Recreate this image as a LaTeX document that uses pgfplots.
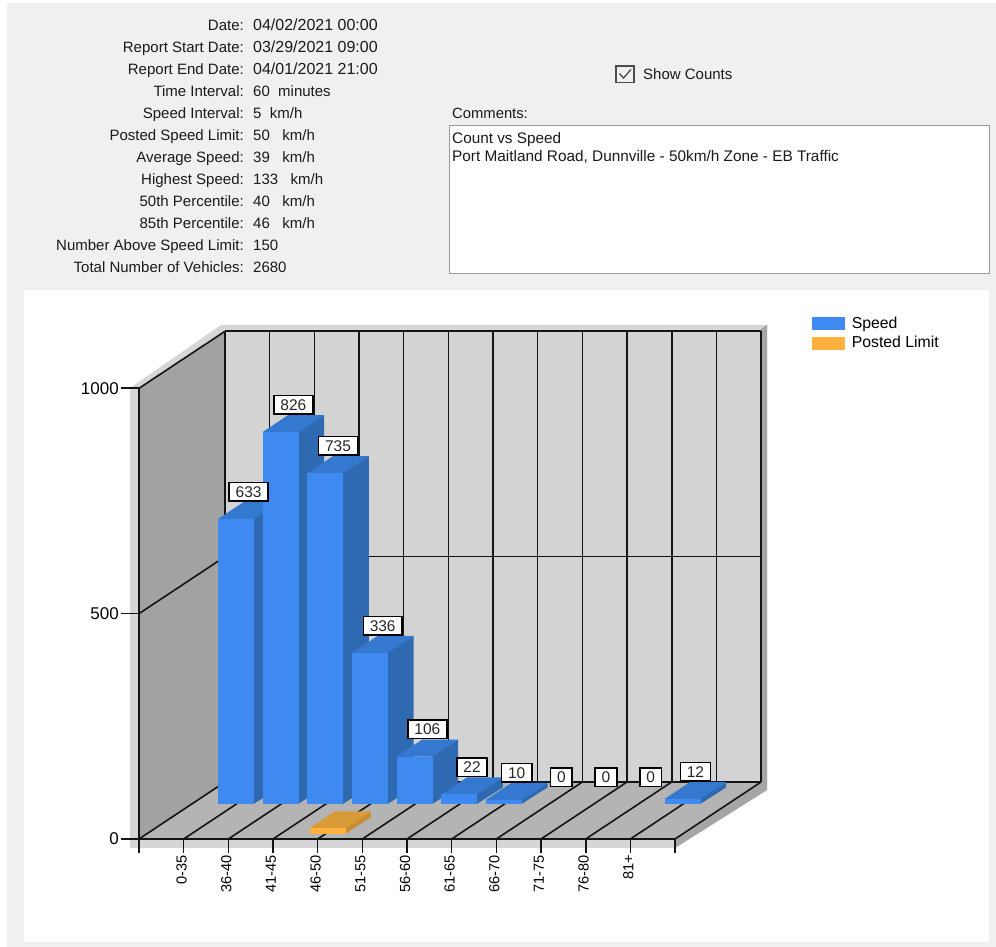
\documentclass[border=0pt]{standalone}
\usepackage{pgfplots}
\usepackage{pgfplotstable}
\usepackage{fontspec}
\setmainfont{Liberation Sans}
\pgfplotsset{compat=1.18}
\definecolor{panel}{HTML}{F0F0F0}
\definecolor{wallback}{HTML}{D3D3D3}
\definecolor{wallleft}{HTML}{A2A2A2}
\definecolor{wallfloor}{HTML}{B4B4B4}
\definecolor{shlight}{HTML}{D6D6D6}
\definecolor{shdark}{HTML}{A6A6A6}
\definecolor{barfront}{HTML}{3F8AF0}
\definecolor{bartop}{HTML}{3478CF}
\definecolor{barside}{HTML}{2F69B2}
\definecolor{orfront}{HTML}{FFB13F}
\definecolor{ortop}{HTML}{D99B38}
\definecolor{orside}{HTML}{C98E33}
\definecolor{hdr}{HTML}{1A1A1A}
\newcommand{\threedbar}[9]{%
 % x0 x1 x1-inset y0 y1 z front top side
 \addplot3[fill=#9,draw=none,forget plot] coordinates {(#3,#4,0)(#2,#5,0)(#2,#5,#6)(#3,#4,#6)};
 \addplot3[fill=#8,draw=none,forget plot] coordinates {(#1,#4,#6)(#2,#4,#6)(#2,#5,#6)(#1,#5,#6)};
 \addplot3[fill=#7,draw=none,forget plot] coordinates {(#1,#4,0)(#2,#4,0)(#2,#4,#6)(#1,#4,#6)};
}
\newcommand{\bluebar}[4]{\threedbar{#1}{#2}{#3}{0.609}{0.905}{#4}{barfront}{bartop}{barside}}
\newcommand{\gl}[6]{\addplot3[black!92,line width=1.6pt,forget plot] coordinates {(#1,#2,#3)(#4,#5,#6)};}
\pgfplotstableread{
x y count
1 0.75 633
2 0.75 826
3 0.75 735
4 0.75 336
5 0.75 106
6 0.75 22
7 0.75 10
8 0.75 0
9 0.75 0
10 0.75 0
11 0.75 12
}\labeltable
\newcommand{\hfont}{\fontsize{15}{18}\selectfont}
\begin{document}
\begin{tikzpicture}
\begin{scope}[shift={(0pt,947pt)},x=1pt,y=-1pt]
\path (0,0) rectangle (996,947);
\fill[panel] (7,3) rectangle (996,947);
\fill[white] (24,290) rectangle (989,942);
% header
\foreach \yy/\a/\b in {31/Date:/{\fontsize{16}{18}\selectfont 04\slash 02\slash 2021 00:00},53/Report Start Date:/{\fontsize{16}{18}\selectfont 03\slash 29\slash 2021 09:00},75/Report End Date:/{\fontsize{16}{18}\selectfont 04\slash 01\slash 2021 21:00},97/Time Interval:/60\ \ minutes,119/Speed Interval:/5\ \ km\slash h,141/Posted Speed Limit:/50\ \ \ km\slash h,163/Average Speed:/39\ \ \ km\slash h,185/Highest Speed:/133\ \ \ km\slash h,207/50th Percentile:/40\ \ \ km\slash h,229/85th Percentile:/46\ \ \ km\slash h,251/Number Above Speed Limit:/150,273/Total Number of Vehicles:/2680}{
 \node[anchor=base east,inner sep=0pt,text=hdr,font=\hfont] at (244,\yy) {\a};
 \node[anchor=base west,inner sep=0pt,text=hdr,font=\hfont] at (253,\yy) {\b};
}
\draw[black!70,line width=1.2pt,fill=panel] (616,66) rectangle (634,82.5);
\draw[black!75,line width=1.2pt] (619.5,73.5) -- (623.5,78) -- (631,69.5);
\node[anchor=base west,inner sep=0pt,text=hdr,font=\hfont] at (643,80) {Show Counts};
\node[anchor=base west,inner sep=0pt,text=hdr,font=\fontsize{14.8}{18}\selectfont] at (452,119) {Comments:};
\draw[black!40,line width=1pt,fill=white] (449,126) rectangle (989,274);
\node[anchor=base west,inner sep=0pt,text=hdr,font=\fontsize{15.3}{18}\selectfont] at (452,144) {Count vs Speed};
\node[anchor=base west,inner sep=0pt,text=hdr,font=\fontsize{15.36}{18}\selectfont] at (452,162) {Port Maitland Road, Dunnville - 50km/h Zone - EB Traffic};
% shadow
\fill[shlight] (130,388) -- (221,325) -- (767,325) -- (767,790) -- (675,848) -- (130,848) -- cycle;
\fill[shdark] (675,839) -- (761,782) -- (761,329) -- (767,325) -- (767,790) -- (675,848) -- cycle;
\end{scope}
\begin{axis}[
 at={(139pt,108pt)},anchor=origin,
 disabledatascaling,
 x={(44.67pt,0pt)},y={(86pt,57pt)},z={(0pt,0.4507pt)},
 xmin=0,xmax=12,ymin=0,ymax=1,zmin=0,zmax=1000,
 clip=false,
 axis lines=left,
 axis line style={draw=none},
 major tick length=0pt,
 xtick={1,...,11},
 xticklabels={0-35,36-40,41-45,46-50,51-55,56-60,61-65,66-70,71-75,76-80,81+},
 ytick=\empty,
 ztick={0,500,1000},
 /pgf/number format/assume math mode=true,
 /pgf/number format/1000 sep={},
 x tick label style={rotate=90,anchor=east,font=\fontsize{14.6}{16}\selectfont,inner sep=0pt,xshift=-16pt,yshift=2pt},
 z tick label style={anchor=east,font=\fontsize{17}{19}\selectfont,inner sep=0pt,xshift=-20pt},
 legend cell align=left,
 legend style={at={(axis cs:15.07,0,1163)},anchor=north west,draw=none,fill=none,inner sep=0pt,
   row sep=2.5pt,font=\fontsize{15.8}{16}\selectfont},
]
% walls
\addplot3[fill=wallback,draw=none,forget plot] coordinates {(0,1,0)(12,1,0)(12,1,1000)(0,1,1000)};
\addplot3[fill=wallleft,draw=none,forget plot] coordinates {(0,0,0)(0,1,0)(0,1,1000)(0,0,1000)};
\addplot3[fill=wallfloor,draw=none,forget plot] coordinates {(0,0,0)(12,0,0)(12,1,0)(0,1,0)};
% grid: back wall verticals and floor lines
\gl{0}{1}{0}{0}{1}{1000}\gl{1}{1}{0}{1}{1}{1000}\gl{2}{1}{0}{2}{1}{1000}\gl{3}{1}{0}{3}{1}{1000}
\gl{4}{1}{0}{4}{1}{1000}\gl{5}{1}{0}{5}{1}{1000}\gl{6}{1}{0}{6}{1}{1000}\gl{7}{1}{0}{7}{1}{1000}
\gl{8}{1}{0}{8}{1}{1000}\gl{9}{1}{0}{9}{1}{1000}\gl{10}{1}{0}{10}{1}{1000}\gl{11}{1}{0}{11}{1}{1000}
\gl{12}{1}{0}{12}{1}{1000}
\gl{0}{0}{0}{0}{1}{0}\gl{1}{0}{0}{1}{1}{0}\gl{2}{0}{0}{2}{1}{0}\gl{3}{0}{0}{3}{1}{0}\gl{4}{0}{0}{4}{1}{0}
\gl{5}{0}{0}{5}{1}{0}\gl{6}{0}{0}{6}{1}{0}\gl{7}{0}{0}{7}{1}{0}\gl{8}{0}{0}{8}{1}{0}\gl{9}{0}{0}{9}{1}{0}
\gl{10}{0}{0}{10}{1}{0}\gl{11}{0}{0}{11}{1}{0}\gl{12}{0}{0}{12}{1}{0}
% horizontal grid
\gl{0}{1}{0}{12}{1}{0}\gl{0}{1}{500}{12}{1}{500}\gl{0}{1}{1000}{12}{1}{1000}
\gl{0}{0}{500}{0}{1}{500}\gl{0}{0}{1000}{0}{1}{1000}
% axis lines and tick marks
\gl{0}{0}{0}{0}{0}{1000}\gl{0}{0}{0}{12}{0}{0}
\gl{0}{0}{0}{-0.4}{0}{0}\gl{0}{0}{500}{-0.4}{0}{500}\gl{0}{0}{1000}{-0.4}{0}{1000}
\gl{0}{0}{0}{0}{0}{-31}\gl{1}{0}{0}{1}{0}{-31}\gl{2}{0}{0}{2}{0}{-31}\gl{3}{0}{0}{3}{0}{-31}\gl{4}{0}{0}{4}{0}{-31}
\gl{5}{0}{0}{5}{0}{-31}\gl{6}{0}{0}{6}{0}{-31}\gl{7}{0}{0}{7}{0}{-31}\gl{8}{0}{0}{8}{0}{-31}\gl{9}{0}{0}{9}{0}{-31}
\gl{10}{0}{0}{10}{0}{-31}\gl{11}{0}{0}{11}{0}{-31}\gl{12}{0}{0}{12}{0}{-31}
% speed bars
\bluebar{0.597}{1.403}{1.38}{633}
\bluebar{1.597}{2.403}{2.38}{826}
\bluebar{2.597}{3.403}{3.38}{735}
\bluebar{3.597}{4.403}{4.38}{336}
\bluebar{4.597}{5.403}{5.38}{106}
\bluebar{5.597}{6.403}{6.38}{22}
\bluebar{6.597}{7.403}{7.38}{10}
\bluebar{10.597}{11.403}{11.38}{12}
% posted limit
\threedbar{3.65}{4.46}{4.44}{0.088}{0.38}{13}{orfront}{ortop}{orside}
% count labels
\addplot3[draw=none,no markers,forget plot,point meta=z,
  nodes near coords,
  nodes near coords style={anchor=south,yshift=9pt,xshift=0.5pt,fill=white,draw=black,line width=1.5pt,
   inner xsep=6.5pt,inner ysep=0pt,minimum height=18.5pt,text=black!85,font=\fontsize{15.5}{17}\selectfont,
   /pgf/number format/.cd,fixed,precision=0,1000 sep={}}]
  table[x=x,y=y,z=count] {\labeltable};
\addlegendimage{legend image code/.code={\fill[barfront] (0pt,-6pt) rectangle (32pt,6pt);\path (37pt,0pt) circle (0pt);}}
\addlegendentry{Speed}
\addlegendimage{legend image code/.code={\fill[orfront] (0pt,-6pt) rectangle (32pt,6pt);\path (37pt,0pt) circle (0pt);}}
\addlegendentry{Posted Limit}
\end{axis}
\end{tikzpicture}
\end{document}
